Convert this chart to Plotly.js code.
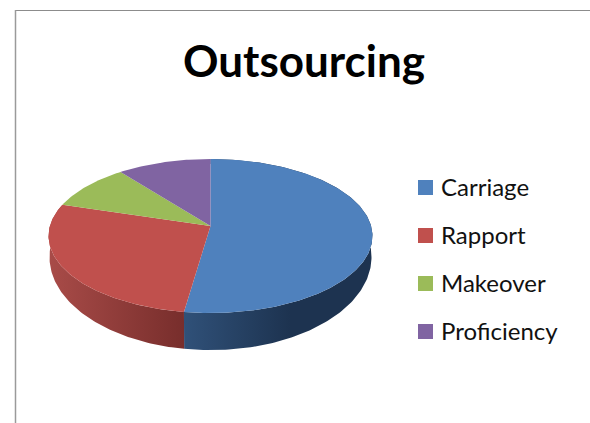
<!DOCTYPE html>
<html>
<head>
<meta charset="utf-8">
<script src="https://cdn.plot.ly/plotly-3.0.1.min.js"></script>
<style>html,body{margin:0;padding:0;background:#fff}#chart{width:590px;height:423px}</style>
</head>
<body>
<div id="chart"></div>
<script>
// Chart content
const chartTitle = "Outsourcing";
const categories = ["Carriage", "Rapport", "Makeover", "Proficiency"];
const shares = [52.3, 27.4, 9.7, 10.6];
const faceColors = ["#4f81bd", "#c0504d", "#9bbb59", "#8064a2"];
const wallColors = [["#305179", "#1d3350"], ["#a84b48", "#782e2c"], null, null];
const wallSpans = [[183, 290], [50, 183], null, null];

// Tilted disc: a unit circle seen in perspective, pivot at the pie centre
const pivot = {x: 210.5, y: 226};
const disc = {a: 160.6, b: 75.7, p: 0.13};
const topRim = {sx: 1, sy: 1, drop: 0};
const lowerRim = {sx: 0.994, sy: 1.208, drop: 19};

function project(turn, rim) {
  const t = turn * 2 * Math.PI;
  const u = Math.sin(t), v = -Math.cos(t);
  const w = 1 - disc.p * v;
  return [pivot.x + rim.sx * disc.a * u / w, pivot.y + rim.drop + rim.sy * disc.b * v / w];
}

function arc(from, to, rim) {
  const steps = Math.max(2, Math.ceil((to - from) * 360));
  const pts = [];
  for (let i = 0; i <= steps; i++) pts.push(project(from + (to - from) * i / steps, rim));
  return pts;
}

function polygon(points, extra) {
  return Object.assign({
    type: "scatter", mode: "lines", fill: "toself",
    x: points.map(p => p[0]), y: points.map(p => p[1]),
    line: {width: 0}, hoverinfo: "skip", showlegend: false
  }, extra);
}

const total = shares.reduce((s, v) => s + v, 0);
const walls = [], faces = [];
let start = 0;
shares.forEach((value, i) => {
  const end = start + value / total;
  if (wallColors[i]) {
    const pts = arc(start, end, topRim).concat(arc(start, end, lowerRim).reverse());
    walls.push(polygon(pts, {
      name: categories[i] + " edge",
      fillgradient: {
        type: "horizontal",
        start: wallSpans[i][0], stop: wallSpans[i][1],
        colorscale: [[0, wallColors[i][0]], [1, wallColors[i][1]]]
      }
    }));
  }
  const top = [[pivot.x, pivot.y]].concat(arc(start, end, topRim));
  faces.push(polygon(top, {name: categories[i], fillcolor: faceColors[i]}));
  start = end;
});

// Legend entries
const legendFont = {family: "Lato, sans-serif", size: 24, color: "#111"};
const shapes = [
  {type: "line", x0: 15.5, x1: 590, y0: 10.5, y1: 10.5, line: {color: "#8c8c8c", width: 1}},
  {type: "line", x0: 15.5, x1: 15.5, y0: 10, y1: 423, line: {color: "#9a9a9a", width: 1.5}}
];
const annotations = [];
categories.forEach((name, i) => {
  const y = 187.5 + i * 48;
  shapes.push({type: "rect", x0: 418, x1: 433, y0: y - 7.5, y1: y + 7.5,
    fillcolor: faceColors[i], line: {width: 0}});
  annotations.push({x: 438.5, y: y - 1, xref: "x", yref: "y", text: name, showarrow: false,
    xanchor: "left", yanchor: "middle", font: legendFont});
});

Plotly.newPlot("chart", walls.concat(faces), {
  width: 590, height: 423,
  margin: {l: 0, r: 0, t: 0, b: 0},
  paper_bgcolor: "#fff", plot_bgcolor: "#fff",
  showlegend: false,
  title: {
    text: "<b>" + chartTitle + "</b>",
    x: 304 / 590, xanchor: "center",
    y: 1 - 62 / 423, yanchor: "middle",
    font: {family: "Lato, sans-serif", size: 44, color: "#000"}
  },
  xaxis: {range: [0, 590], visible: false, fixedrange: true},
  yaxis: {range: [423, 0], visible: false, fixedrange: true},
  shapes: shapes,
  annotations: annotations
}, {displayModeBar: false, staticPlot: true});
</script>
</body>
</html>
